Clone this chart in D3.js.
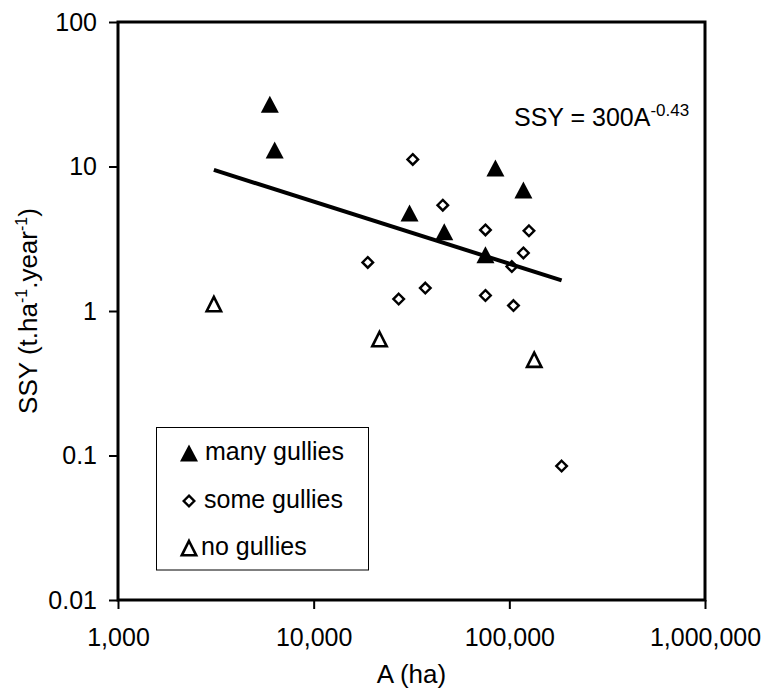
<!DOCTYPE html>
<html>
<head>
<meta charset="utf-8">
<script src="https://cdn.jsdelivr.net/npm/d3@7"></script>
<style>
  html, body { margin: 0; padding: 0; background: #fff; }
  svg { display: block; font-family: "Liberation Sans", Arial, sans-serif; }
</style>
</head>
<body>
<svg id="chart" width="765" height="692"></svg>
<script>
// ---- data ----
const manyGullies = [
  { a: 5970, ssy: 27.0 },
  { a: 6320, ssy: 13.0 },
  { a: 30900, ssy: 4.77 },
  { a: 46500, ssy: 3.53 },
  { a: 84900, ssy: 9.75 },
  { a: 118000, ssy: 6.87 },
  { a: 75500, ssy: 2.45 }
];
const someGullies = [
  { a: 18900, ssy: 2.17 },
  { a: 27200, ssy: 1.21 },
  { a: 32100, ssy: 11.2 },
  { a: 37200, ssy: 1.44 },
  { a: 45700, ssy: 5.4 },
  { a: 75500, ssy: 3.64 },
  { a: 75500, ssy: 1.28 },
  { a: 103000, ssy: 2.03 },
  { a: 105000, ssy: 1.09 },
  { a: 118000, ssy: 2.52 },
  { a: 126000, ssy: 3.59 },
  { a: 185000, ssy: 0.0845 }
];
const noGullies = [
  { a: 3090, ssy: 1.12 },
  { a: 21700, ssy: 0.64 },
  { a: 134000, ssy: 0.461 }
];
const trendCoef = 300;
const trendExp = -0.43;
const xTicks = [1000, 10000, 100000, 1000000];
const xTickLabels = ["1,000", "10,000", "100,000", "1,000,000"];
const yTicks = [0.01, 0.1, 1, 10, 100];
const yTickLabels = ["0.01", "0.1", "1", "10", "100"];
const legendLabels = ["many gullies", "some gullies", "no gullies"];

// ---- layout ----
const L = 118, R = 705, T = 22, B = 600;
const svg = d3.select("#chart");

const x = d3.scaleLog().domain([1000, 1000000]).range([L, R]);
const y = d3.scaleLog().domain([0.01, 100]).range([B, T]);

// ticks
const xAxis = d3.axisBottom(x).tickValues(xTicks)
  .tickFormat((d, i) => xTickLabels[i]).tickSize(9).tickPadding(19);
const gx = svg.append("g").attr("transform", `translate(0,${B})`).call(xAxis);
gx.select(".domain").remove();

const yAxis = d3.axisLeft(y).tickValues(yTicks)
  .tickFormat((d, i) => yTickLabels[i]).tickSize(9).tickPadding(12);
const gy = svg.append("g").attr("transform", `translate(${L},0)`).call(yAxis);
gy.select(".domain").remove();

[gx, gy].forEach(g => {
  g.selectAll(".tick line").attr("stroke", "#000").attr("stroke-width", 2);
  g.selectAll(".tick text").attr("fill", "#000").attr("font-size", 25)
    .attr("font-family", "'Liberation Sans', Arial, sans-serif");
});

// plot frame
svg.append("rect").attr("x", L).attr("y", T).attr("width", R - L).attr("height", B - T)
  .attr("fill", "none").attr("stroke", "#000").attr("stroke-width", 3);

// marker shapes
const triW = 18, triH = 17;
const triPath = `M0,${-triH / 2}L${triW / 2},${triH / 2}L${-triW / 2},${triH / 2}Z`;
const triOpenPath = `M0,${-triH / 2 + 1.5}L${triW / 2 - 1.8},${triH / 2 - 1.2}L${-triW / 2 + 1.8},${triH / 2 - 1.2}Z`;
const dia = 5.3;
const diaPath = `M0,${-dia}L${dia},0L0,${dia}L${-dia},0Z`;

function drawMarker(g, type) {
  if (type === 0) g.append("path").attr("d", triPath).attr("fill", "#000");
  else if (type === 1) g.append("path").attr("d", diaPath).attr("fill", "#fff")
    .attr("stroke", "#000").attr("stroke-width", 2.4);
  else g.append("path").attr("d", triOpenPath).attr("fill", "#fff")
    .attr("stroke", "#000").attr("stroke-width", 2.6).attr("stroke-linejoin", "miter");
}

const seriesList = [manyGullies, someGullies, noGullies];
seriesList.forEach((s, si) => {
  svg.append("g").selectAll("g").data(s).enter().append("g")
    .attr("transform", d => `translate(${x(d.a)},${y(d.ssy)})`)
    .each(function () { drawMarker(d3.select(this), si); });
});

// trendline
const allA = seriesList.flat().map(d => d.a);
const aExt = d3.extent(allA);
const trendPts = aExt.map(a => ({ a, ssy: trendCoef * Math.pow(a, trendExp) }));
svg.append("path")
  .attr("d", d3.line().x(d => x(d.a)).y(d => y(d.ssy))(trendPts))
  .attr("stroke", "#000").attr("stroke-width", 4).attr("fill", "none");

// equation
const eq = svg.append("text").attr("x", 514).attr("y", 126).attr("font-size", 25).attr("fill", "#000");
eq.append("tspan").text(`SSY = ${trendCoef}A`);
eq.append("tspan").attr("font-size", 17).attr("dy", -10).text(`${trendExp}`);

// axis titles
svg.append("text").attr("x", (L + R) / 2).attr("y", 683).attr("text-anchor", "middle")
  .attr("font-size", 26).attr("fill", "#000").text("A (ha)");

const yt = svg.append("text").attr("transform", `translate(37,${(T + B) / 2}) rotate(-90)`)
  .attr("text-anchor", "middle").attr("font-size", 26).attr("fill", "#000");
yt.append("tspan").text("SSY (t.ha");
yt.append("tspan").attr("font-size", 16).attr("dy", -10).text("-1");
yt.append("tspan").attr("dy", 10).text(".year");
yt.append("tspan").attr("font-size", 16).attr("dy", -10).text("-1");
yt.append("tspan").attr("dy", 10).text(")");

// legend
const lg = svg.append("g");
lg.append("rect").attr("x", 156.5).attr("y", 427.5).attr("width", 212).attr("height", 142.5)
  .attr("fill", "#fff").attr("stroke", "#000").attr("stroke-width", 1);
const rowY = [453, 501, 548];
const textX = [205, 204, 201];
legendLabels.forEach((lab, i) => {
  const g = lg.append("g").attr("transform", `translate(189,${rowY[i]})`);
  drawMarker(g, i);
  lg.append("text").attr("x", textX[i]).attr("y", rowY[i] + 7).attr("font-size", 25)
    .attr("fill", "#000").text(lab);
});
</script>
</body>
</html>
